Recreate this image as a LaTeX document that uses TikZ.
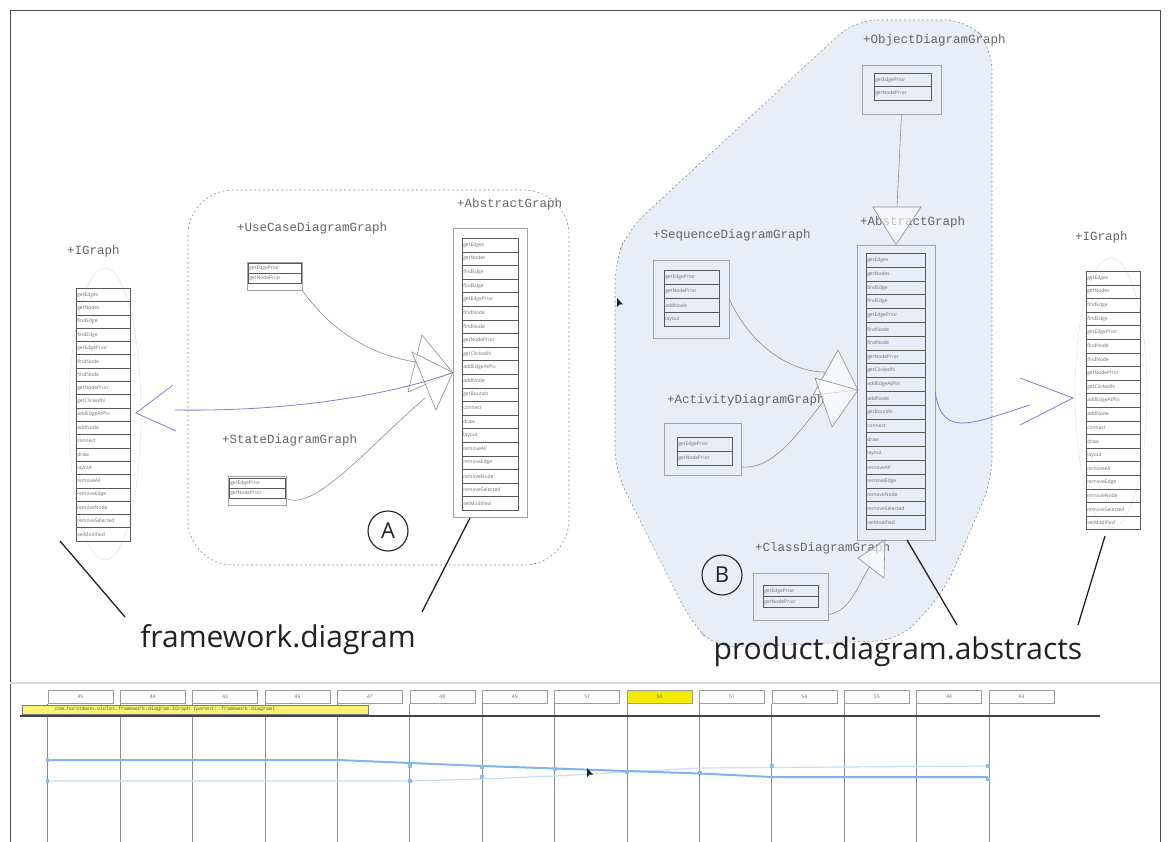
\documentclass[tikz,border=0pt]{standalone}
\usepackage{fontspec}
\setmainfont{Open Sans}
\newfontfamily\codefont{Liberation Mono}
\usetikzlibrary{arrows.meta,positioning,calc}
\definecolor{Ink}{HTML}{222222}
\definecolor{Wire}{HTML}{8C8C8C}
\definecolor{Haze}{HTML}{E8EDF6}
\definecolor{Link}{HTML}{7C80D4}
\definecolor{Track}{HTML}{7FB4EE}
\definecolor{Mark}{HTML}{F2EA00}
\tikzset{
 frame/.style={draw=Ink!80,line width=1pt},
 panelrule/.style={draw=black!15,line width=1.5pt},
 clsname/.style={font=\codefont\fontsize{12.5}{12.5}\selectfont,text=Ink!70,anchor=west,inner sep=0pt},
 rowbox/.style={draw=Ink!75,line width=.5pt,inner xsep=1pt,inner ysep=0pt,anchor=north west,align=left,font=\fontsize{5}{5}\selectfont,text=Ink!65},
 umlbox/.style={draw=Wire!80,line width=.6pt,inner sep=0pt},
 wire/.style={draw=Wire,line width=.6pt},
 tri/.style={draw=Wire,line width=.6pt,fill=white,fill opacity=.6,draw opacity=1},
 linkwire/.style={draw=Link,line width=.8pt},
 groupA/.style={draw=Wire,line width=.6pt,dash pattern=on 2pt off 2.5pt},
 groupB/.style={draw=Wire,fill=Haze,line width=.6pt,dash pattern=on 2pt off 2.5pt},
 pointer/.style={draw=Ink,line width=1.3pt},
 bigtext/.style={font=\fontsize{30}{30}\selectfont,text=Ink,inner sep=0pt},
 letterring/.style={circle,draw=Ink,line width=1.1pt,minimum size=40pt,inner sep=0pt,font=\fontsize{22}{22}\selectfont,text=Ink},
 halo/.style={draw=black!10,line width=.6pt},
 revbox/.style={draw=Ink!45,line width=.5pt,minimum width=65pt,minimum height=13pt,inner sep=0pt,anchor=north west,font=\fontsize{5}{5}\selectfont,text=Ink!70},
 revplain/.style={fill=white},
 revnow/.style={fill=Mark},
 gridline/.style={draw=black!45,line width=.6pt},
 pin/.style={fill=Track!90,minimum size=3.5pt,inner sep=0pt}
}
% stacked method rows: name, x, y, text width, row height, list
\newcommand{\methodrows}[6]{%
 \foreach \m [count=\i from 0] in #6 {
  \node[rowbox,text width=#4pt,minimum height=#5pt] (#1-\i) at (#2,{#3+\i*#5}) {\m};
 }}
\newcommand{\graphapi}{getEdges,getNodes,findEdge,findEdge,getEdgePrior,findNode,findNode,getNodePrior,getClickedN,addEdgeAtPts,addNode,connect,draw,layout,removeAll,removeEdge,removeNode,removeSelected,setModified}
\newcommand{\abstractapi}{getEdges,getNodes,findEdge,findEdge,getEdgePrior,findNode,findNode,getNodePrior,getClickedN,addEdgeAtPts,addNode,getBounds,connect,draw,layout,removeAll,removeEdge,removeNode,removeSelected,setModified}

\begin{document}
\begin{tikzpicture}[x=1pt,y=-1pt]
\useasboundingbox (0,0) rectangle (1171,842);
% window frame and panel split
\draw[frame] (10,850) -- (10,11) -- (1160,11) -- (1160,850);
\draw[panelrule] (10,683) -- (1160,683);

% group areas
\path[groupB,rounded corners=22pt] (855,20) -- (968,20) -- (992,48) -- (992,480) -- (945,590) -- (900,640) -- (715,648) -- (690,620) -- (640,520) -- (615,470) -- (615,262) -- (628,230) -- cycle;
\draw[groupA,rounded corners=45pt] (188,190) rectangle (569,565);

% framework.diagram
\node[clsname] (iglname) at (67,251) {+IGraph};
\draw[halo] (105,414) ellipse (36pt and 146pt);
\methodrows{igl}{76}{288}{52}{13.3}{\graphapi}

\node[clsname] (ucname) at (237,228) {+UseCaseDiagramGraph};
\node[umlbox,minimum width=55pt,minimum height=28pt] (ucbox) at (274.5,276) {};
\methodrows{uc}{248}{263}{51}{10}{{getEdgePrior,getNodePrior}}

\node[clsname] (stname) at (222,440) {+StateDiagramGraph};
\node[umlbox,minimum width=58pt,minimum height=29pt] (stbox) at (257,490.5) {};
\methodrows{st}{229}{478}{54}{10}{{getEdgePrior,getNodePrior}}

\node[clsname] (absname) at (457,204) {+AbstractGraph};
\node[umlbox,minimum width=74pt,minimum height=289pt] (absbox) at (490,372.5) {};
\methodrows{abs}{462}{238}{54}{13.6}{\abstractapi}

% generalisations into AbstractGraph
\draw[wire] (ucbox.south east) .. controls (330,330) and (370,355) .. (416,362);
\draw[wire] ($(stbox.east)+(0,8)$) .. controls (315,512) and (370,445) .. (425,398);
\draw[tri] (422,335) -- (absbox.west) -- (408,392) -- cycle;
\draw[tri] (412,352) -- (absbox.west) -- (436,410) -- cycle;
\draw[linkwire] (175,410) .. controls (300,412) and (400,392) .. (absbox.west);
\draw[linkwire] (173,385) -- (136,413) -- (176,431);

% product.diagram.abstracts
\node[clsname] (objname) at (863,40) {+ObjectDiagramGraph};
\node[umlbox,minimum width=79pt,minimum height=49pt] (objbox) at (901.5,89.5) {};
\methodrows{obj}{874}{73}{55}{13.5}{{getEdgePrior,getNodePrior}}

\node[clsname] (seqname) at (653,235) {+SequenceDiagramGraph};
\node[umlbox,minimum width=76pt,minimum height=78pt] (seqbox) at (691,299) {};
\methodrows{seq}{664}{270}{53}{14}{{getEdgePrior,getNodePrior,addNode,layout}}

\node[clsname] (actname) at (667,400) {+ActivityDiagramGraph};
\node[umlbox,minimum width=77pt,minimum height=52pt] (actbox) at (702.5,449) {};
\methodrows{act}{677}{437}{53}{14}{{getEdgePrior,getNodePrior}}

\node[clsname] (clsname) at (755,548) {+ClassDiagramGraph};
\node[umlbox,minimum width=75pt,minimum height=47pt] (clsbox) at (790.5,596.5) {};
\methodrows{cls}{763}{585}{53}{11}{{getEdgePrior,getNodePrior}}

\node[clsname] (abs2name) at (860,222) {+AbstractGraph};
\node[umlbox,minimum width=78pt,minimum height=295pt] (abs2box) at (896,392.5) {};
\methodrows{absb}{866}{253}{57}{13.8}{\abstractapi}

\node[clsname] (igrname) at (1075,237) {+IGraph};
\draw[halo] (1111,393) ellipse (36pt and 135pt);
\methodrows{igr}{1086}{271}{52}{13.6}{\graphapi}

% generalisations into the second AbstractGraph
\draw[wire] (objbox.south) -- (897,207);
\draw[tri] (873,207) -- (921,207) -- (abs2box.north) -- cycle;
\draw[wire] (seqbox.east) .. controls (750,345) and (790,372) .. (825,372);
\draw[wire] ($(actbox.east)+(0,18)$) .. controls (775,470) and (800,430) .. (823,402);
\draw[tri] (838,350) -- (858,390) -- (813,395) -- cycle;
\draw[tri] (815,378) -- (858,390) -- (832,427) -- cycle;
\draw[wire] ($(clsbox.east)+(0,18)$) .. controls (850,612) and (858,585) .. (870,566);
\draw[tri] (885,540) -- (884,578) -- (858,558) -- cycle;
\draw[linkwire] (abs2box.east) .. controls (942,440) and (975,422) .. (1030,405);
\draw[linkwire] (1020,378) -- (1073,398) -- (1020,425);

% package labels
\node[letterring] (ringA) at (388,531) {A};
\node[letterring] (ringB) at (722,575) {B};
\node[bigtext] (fwlabel) at (278,640) {framework.diagram};
\node[bigtext] (pdlabel) at (898,652) {product.diagram.abstracts};
\draw[pointer] (60,541) -- (125,617);
\draw[pointer] (470,518) -- (422,612);
\draw[pointer] (907,540) -- (957,625);
\draw[pointer] (1105,536) -- (1078,625);

% mouse pointer
\fill[Ink] (617,298) -- ++(0,9) -- ++(2.5,-2.5) -- ++(3.5,0) -- cycle;

% revision timeline
\foreach \v/\st [count=\k from 0] in {45/revplain,44/revplain,43/revplain,46/revplain,47/revplain,48/revplain,49/revplain,51/revplain,50/revnow,51/revplain,54/revplain,55/revplain,44/revplain,43/revplain} {
 \node[revbox,\st] (rev\k) at ({47.6+72.4*\k},690) {\v};
 \draw[gridline] (rev\k.south west) -- (rev\k.south west |- 0,842);
}
\draw[draw=Ink!85,line width=1.3pt] (20,716) -- (1100,716);
\node[draw=Ink!60,fill=Mark!55,minimum width=346pt,minimum height=9pt,inner sep=0pt,anchor=north west,font=\codefont\fontsize{5}{5}\selectfont,text=Ink!75] (revtip) at (22,705) {\hspace*{-60pt}com.horstmann.violet.framework.diagram.IGraph (parent: framework.diagram)};
\draw[Track!45,line width=1.2pt] (47.6,781) -- (410,781) -- (482,779) -- (555,776) -- (627,772) -- (700,768) -- (988,766);
\draw[Track,line width=2pt] (47.6,760) -- (337,760) -- (410,763) -- (482,766) -- (555,768.5) -- (627,771) -- (700,773.5) -- (772,777) -- (988,777);
\foreach \px/\py in {47.6/760,47.6/781,410/766,410/781,482/767,482/777,555/769,627/772,700/773,772/766,988/766,988/779} {
 \node[pin] at (\px,\py) {};
}
\fill[Ink] (587,768) -- ++(0,9) -- ++(2.5,-2.5) -- ++(3.5,0) -- cycle;
\end{tikzpicture}
\end{document}
